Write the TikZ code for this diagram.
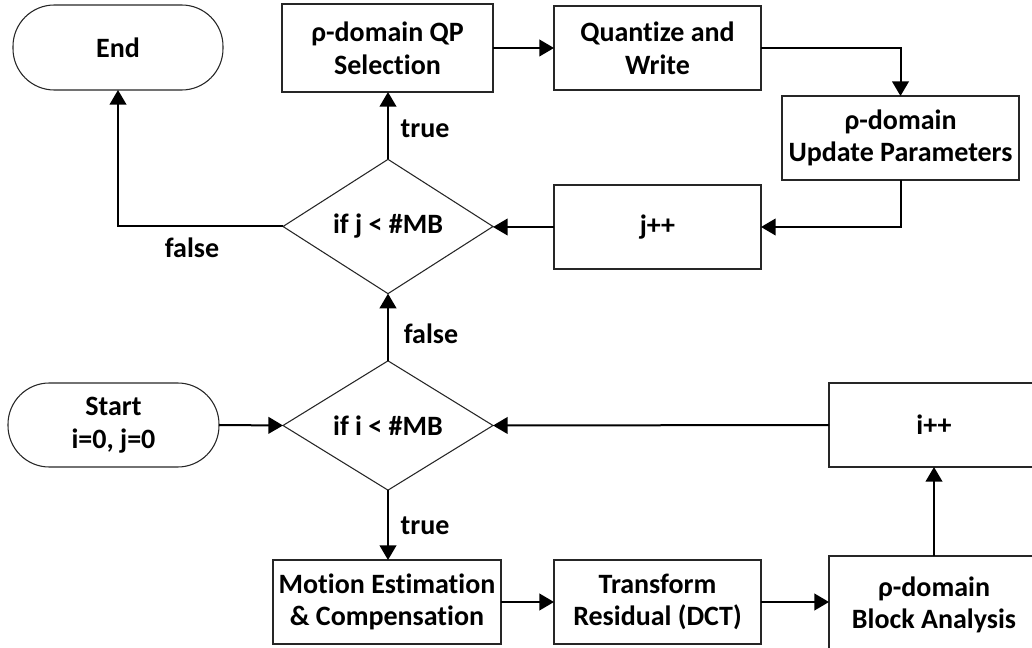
\documentclass[tikz,border=0pt]{standalone}
\usepackage{fontspec}
\setmainfont{Carlito}[Ligatures=NoCommon]
\usetikzlibrary{shapes.geometric,arrows.meta}

\begin{document}
\begin{tikzpicture}[x=0.75pt,y=-0.75pt,
  lbl/.style={font=\bfseries\fontsize{21}{24.5}\selectfont, align=center},
  shapebase/.style={lbl, draw=black!85, line width=0.8pt, inner sep=0pt, outer sep=0pt},
  wh/.style 2 args={minimum width=#1*0.75pt, minimum height=#2*0.75pt},
  procbox/.style={shapebase, rectangle},
  terminal/.style={shapebase, rectangle, rounded corners=31pt},
  decision/.style={shapebase, diamond},
  flow/.style={line width=1.5pt, -{Triangle[length=11pt,width=12.5pt]}},
]
\useasboundingbox (0,0) rectangle (1032,648);
\clip (0,0) rectangle (1032,648);

% terminals
\node[terminal, wh={210}{85}] (end)   at (118,47.5)  {End};
\node[terminal, wh={211}{84}] (start) at (113.5,425) {Start\\i=0, j=0};

% decisions
\node[decision, wh={210}{125}] (dj) at (388,226.5) {if j < \#MB};
\node[decision, wh={210}{125}] (di) at (388,425.5) {if i < \#MB};

% process boxes, upper loop
\node[procbox, wh={211}{88}] (qp)  at (387.5,48)  {ρ-domain QP\\Selection};
\node[procbox, wh={207}{84}] (qw)  at (657.5,48)  {Quantize and\\Write};
\node[procbox, wh={237}{84}] (up)  at (900.5,138) {ρ-domain\\Update Parameters};
\node[procbox, wh={207}{84}] (jpp) at (657.5,227) {j++};

% process boxes, lower loop
\node[procbox, wh={228}{84}] (me)  at (387,602)   {Motion Estimation\\\& Compensation};
\node[procbox, wh={207}{84}] (tr)  at (657.5,602) {Transform\\Residual (DCT)};
\node[procbox, wh={210}{98}] (ba)  at (934,605)   {ρ-domain\\Block Analysis};
\node[procbox, wh={210}{84}] (ipp) at (934,425)   {i++};

% branch labels
\node[lbl] (tj) at (425,129) {true};
\node[lbl] (fj) at (192,248) {false};
\node[lbl] (fi) at (431,334) {false};
\node[lbl] (ti) at (425,526) {true};

% connectors
\draw[flow] (start.east) -- (di.west);
\draw[flow] (ipp.west) -- (di.east);
\draw[flow] (di.south) -- (di.south |- me.north);
\draw[flow] (me.east) -- (me.east -| tr.west);
\draw[flow] (tr.east) -- (tr.east -| ba.west);
\draw[flow] (ba.north) -- (ipp.south);
\draw[flow] (di.north) -- (dj.south);
\draw[flow] (dj.north) -- (dj.north |- qp.south);
\draw[flow] (dj.west) -| (end.south);
\draw[flow] (qp.east) -- (qp.east -| qw.west);
\draw[flow] (qw.east) -| (up.north);
\draw[flow] (up.south) |- (jpp.east);
\draw[flow] (jpp.west) -- (jpp.west -| dj.east);
\end{tikzpicture}
\end{document}
